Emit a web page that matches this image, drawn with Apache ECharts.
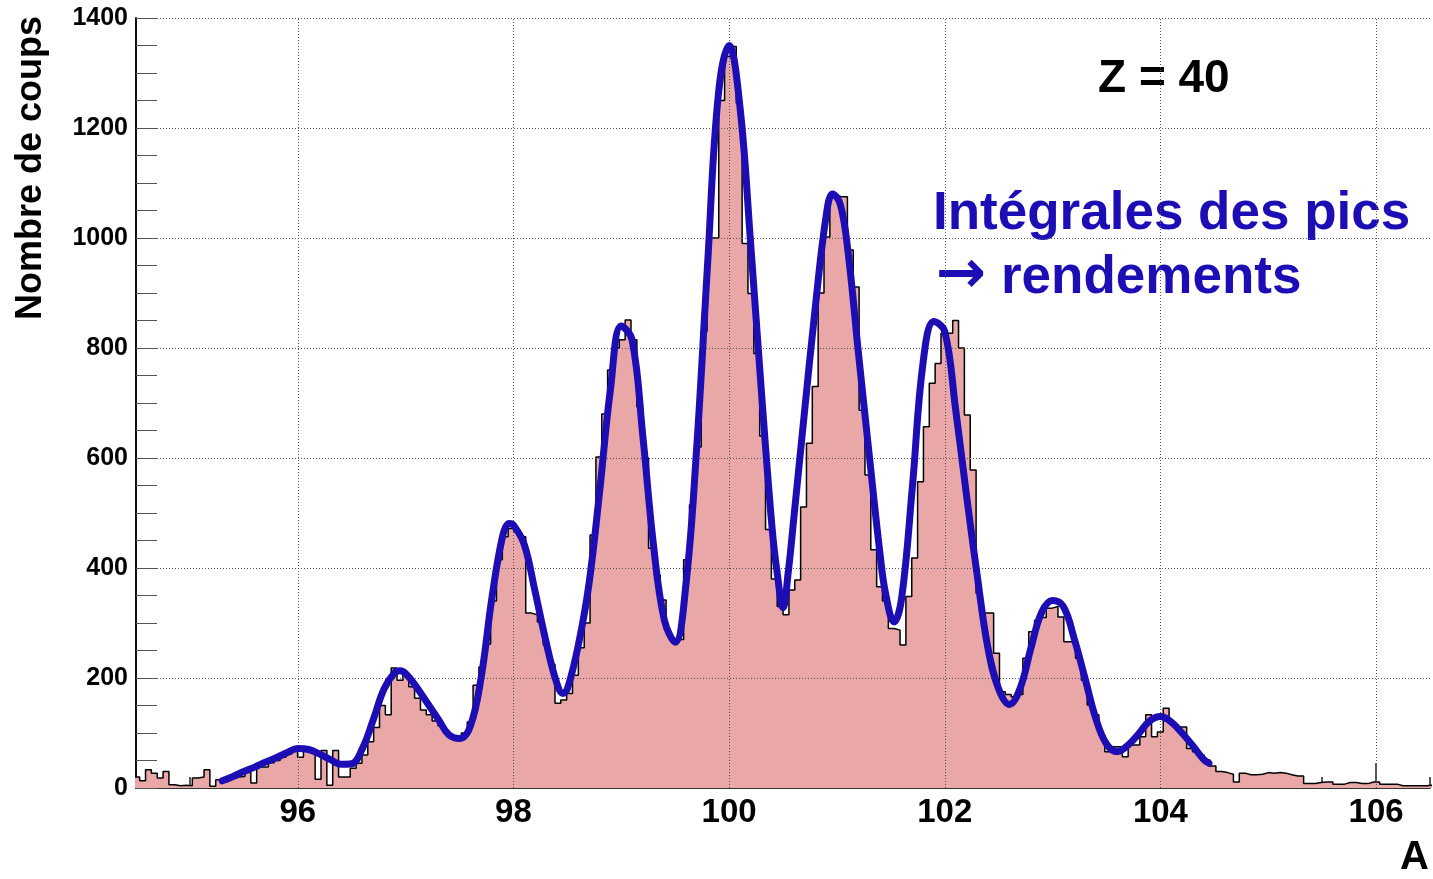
<!DOCTYPE html>
<html>
<head>
<meta charset="utf-8">
<script src="https://cdn.jsdelivr.net/npm/echarts@6/dist/echarts.min.js"></script>
<style>
  html, body { margin: 0; padding: 0; background: #ffffff; }
  #chart { width: 1433px; height: 879px; }
</style>
</head>
<body>
<div id="chart"></div>
<script>
// Mass-number (A) distribution of fragments with Z = 40:
// binned counts drawn as a step histogram, with the multi-peak fit on top.

const HIST_START = 94.48;   // low edge of the first bin
const BIN_WIDTH = 0.05424;  // bin width in mass units

const histCounts = [
  20, 13, 33, 27, 18, 30, 6, 4, 5, 4,
  18, 20, 33, 3, 15, 11, 17, 20, 21, 28,
  9, 38, 38, 46, 50, 56, 62, 70, 56, 68,
  66, 16, 68, 5, 68, 20, 20, 36, 45, 60,
  84, 110, 150, 133, 218, 196, 208, 184, 163, 142,
  133, 122, 113, 100, 90, 88, 100, 120, 187, 220,
  262, 340, 415, 457, 472, 466, 457, 318, 315, 302,
  260, 225, 154, 160, 172, 205, 255, 300, 460, 602,
  680, 760, 800, 815, 851, 815, 693, 600, 436, 387,
  342, 281, 266, 270, 415, 515, 620, 830, 1000, 1000,
  1250, 1330, 1348, 1245, 990, 899, 790, 640, 470, 380,
  330, 315, 360, 378, 511, 627, 730, 900, 1002, 1078,
  1075, 1075, 978, 911, 687, 569, 433, 366, 340, 290,
  287, 260, 348, 418, 557, 657, 736, 772, 827, 827,
  850, 800, 678, 578, 354, 318, 318, 245, 175, 170,
  166, 170, 236, 284, 305, 310, 327, 330, 311, 266,
  266, 236, 196, 151, 133, 96, 66, 75, 75, 57,
  78, 78, 93, 133, 93, 102, 145, 118, 111, 111,
  72, 66, 60, 51, 40, 30, 28, 25, 11, 27,
  24, 24, 25, 28, 27, 28, 27, 24, 22, 22,
  8, 8, 10, 11, 11, 7, 7, 10, 10, 8,
  8, 11, 11, 7, 7, 7, 4, 4, 4, 4,
  4, 5
];

// Fit curve, sampled along A
const fitA = [
  95.3, 95.4, 95.5, 95.6, 95.7, 95.8, 95.9, 96.0, 96.1, 96.2,
  96.3, 96.4, 96.5, 96.6, 96.7, 96.8, 96.9, 96.95, 97.0, 97.1, 97.2,
  97.3, 97.4, 97.5, 97.6, 97.7, 97.8, 97.9, 97.96, 98.0, 98.1, 98.2,
  98.3, 98.4, 98.46, 98.5, 98.6, 98.7, 98.8, 98.9, 99.0, 99.1, 99.2,
  99.3, 99.4, 99.5, 99.6, 99.7, 99.8, 99.9, 100.0, 100.1, 100.2,
  100.3, 100.4, 100.45, 100.5, 100.55, 100.6, 100.7, 100.8, 100.9, 100.96, 101.03, 101.1, 101.2,
  101.3, 101.4, 101.45, 101.53, 101.6, 101.7, 101.8, 101.9, 102.0, 102.1, 102.2,
  102.3, 102.4, 102.5, 102.6, 102.7, 102.8, 102.9, 103.0, 103.1, 103.2,
  103.3, 103.4, 103.5, 103.6, 103.7, 103.8, 103.9, 104.0, 104.1, 104.2,
  104.3, 104.4, 104.45
];
const fitCounts = [
  13, 21, 30, 38, 47, 55, 64, 72, 70, 62,
  52, 43, 44, 72, 124, 180, 210, 213, 208, 184, 155,
  126, 97, 90, 112, 200, 345, 458, 481, 478, 443, 358,
  268, 192, 172, 180, 258, 370, 540, 725, 840, 815, 640,
  440, 305, 265, 370, 620, 950, 1260, 1350, 1240, 990,
  720, 470, 385, 328, 395, 490, 685, 875, 1040, 1080, 1062, 980, 790,
  605, 425, 355, 302, 345, 548, 775, 848, 830, 690, 535,
  388, 255, 180, 152, 182, 255, 320, 341, 330, 272,
  200, 127, 80, 66, 78, 99, 122, 130, 120, 100,
  77, 52, 45
];

const xTickLabels = [96, 98, 100, 102, 104, 106];
const yGridValues = [200, 400, 600, 800, 1000, 1200, 1400];

const BLUE = '#1c0db4';
const FONT = '"Liberation Sans", Arial, Helvetica, sans-serif';

// Step outline points: each bin starts at its low edge; the last one is closed at its high edge
const histPoints = histCounts.map((c, k) => [HIST_START + k * BIN_WIDTH, c]);
histPoints.push([HIST_START + histCounts.length * BIN_WIDTH, histCounts[histCounts.length - 1]]);

const fitPoints = fitA.map((a, i) => [a, fitCounts[i]]);

const gridLineStyle = { color: '#555', width: 1, type: [1, 2] };
const gridLines = [
  ...xTickLabels.map(v => ({ xAxis: v })),
  ...yGridValues.map(v => ({ yAxis: v }))
];

const chart = echarts.init(document.getElementById('chart'), null, { renderer: 'canvas' });

chart.setOption({
  animation: false,
  backgroundColor: '#ffffff',
  grid: { left: 136, right: 3, top: 18, bottom: 91, containLabel: false },
  xAxis: [
    {
      // half-unit ticks
      type: 'value', min: 94.5, max: 106.5, interval: 0.5,
      axisLine: { show: true, onZero: false, lineStyle: { color: '#333', width: 2 } },
      axisTick: { show: true, inside: true, length: 11, lineStyle: { color: '#222', width: 1.5 } },
      axisLabel: { show: false },
      splitLine: { show: false }
    },
    {
      // labelled ticks every two mass units
      type: 'value', min: 94.5, max: 106.5, position: 'bottom',
      axisLine: { show: false },
      axisTick: { show: true, inside: true, length: 25, customValues: xTickLabels,
                  lineStyle: { color: '#222', width: 1.5 } },
      axisLabel: { show: true, customValues: xTickLabels, margin: 8,
                   fontFamily: FONT, fontWeight: 'bold', fontSize: 33, color: '#000' },
      splitLine: { show: false }
    }
  ],
  yAxis: {
    type: 'value', min: 0, max: 1400, interval: 200,
    axisLine: { show: true, lineStyle: { color: '#111', width: 2 } },
    axisTick: { show: true, inside: true, length: 21, lineStyle: { color: '#555', width: 1 } },
    minorTick: { show: true, splitNumber: 4, length: 21, lineStyle: { color: '#555', width: 1 } },
    axisLabel: { margin: 8, fontFamily: FONT, fontWeight: 'bold', fontSize: 25, color: '#000',
                 formatter: v => String(v) },
    splitLine: { show: false }
  },
  series: [
    {
      name: 'Nombre de coups',
      type: 'line',
      xAxisIndex: 0,
      step: 'end',
      data: histPoints,
      symbol: 'none',
      clip: true,
      z: 2,
      lineStyle: { color: '#000', width: 1.5 },
      areaStyle: { color: '#e9a8a7', opacity: 1, origin: 'start' },
      markLine: {
        silent: true,
        symbol: 'none',
        label: { show: false },
        lineStyle: gridLineStyle,
        data: gridLines,
        z: 3
      }
    },
    {
      name: 'Ajustement',
      type: 'line',
      xAxisIndex: 0,
      data: fitPoints,
      smooth: 0.4,
      symbol: 'none',
      z: 10,
      lineStyle: { color: BLUE, width: 7, cap: 'round', join: 'round' }
    }
  ],
  graphic: [
    {
      type: 'text', x: 31, y: 16, rotation: Math.PI / 2,
      style: { text: 'Nombre de coups', font: 'bold 36px ' + FONT, fill: '#000',
               align: 'right', verticalAlign: 'middle' }
    },
    {
      type: 'text', x: 1429, y: 858,
      style: { text: 'A', font: 'bold 40px ' + FONT, fill: '#000',
               align: 'right', verticalAlign: 'middle' }
    },
    {
      type: 'text', x: 1098, y: 79,
      style: { text: 'Z = 40', font: 'bold 46px ' + FONT, fill: '#000',
               align: 'left', verticalAlign: 'middle' }
    },
    {
      type: 'text', x: 933, y: 214,
      style: { text: 'Intégrales des pics', font: 'bold 53px ' + FONT, fill: BLUE,
               align: 'left', verticalAlign: 'middle' }
    },
    {
      type: 'text', x: 936, y: 278,
      style: {
        text: '{arr|\u2192} rendements',
        font: 'bold 53px ' + FONT, fill: BLUE,
        align: 'left', verticalAlign: 'middle',
        rich: {
          arr: { fontFamily: '"DejaVu Sans", sans-serif', fontWeight: 'bold', fontSize: 60,
                 fill: BLUE, padding: [0, 0, 4, 0] }
        }
      }
    }
  ]
});
</script>
</body>
</html>
